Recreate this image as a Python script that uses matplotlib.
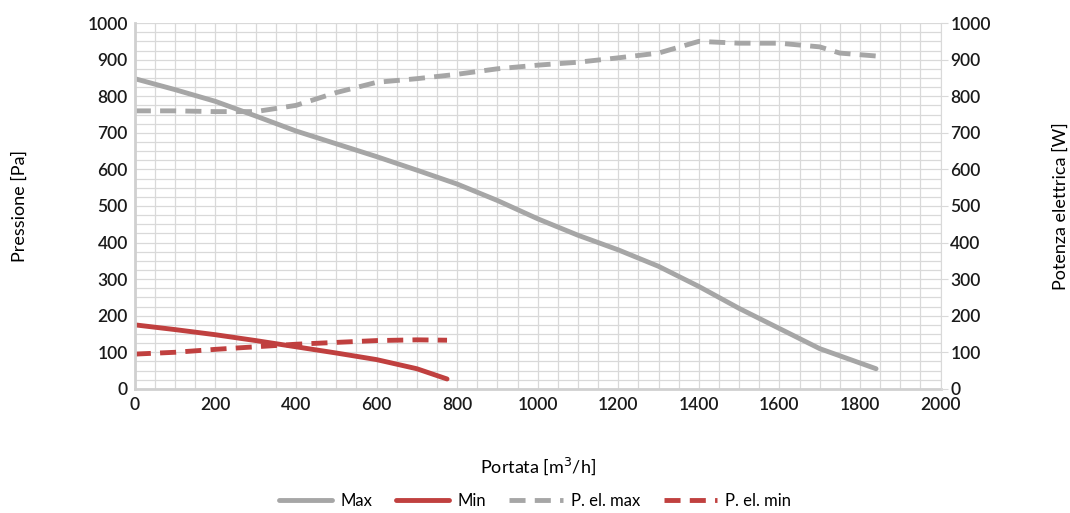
import numpy as np
from matplotlib import pyplot as plt
from matplotlib.ticker import MultipleLocator

plt.rcParams['font.family'] = ['Lato', 'DejaVu Sans']

# curve data
max_x = [0, 100, 200, 300, 400, 500, 600, 700, 800, 900, 1000, 1100, 1200, 1300, 1400, 1500, 1600, 1700, 1840]
max_y = [848, 818, 786, 746, 705, 670, 635, 598, 560, 515, 465, 420, 380, 335, 280, 220, 165, 110, 55]
min_x = [0, 100, 200, 300, 400, 500, 600, 700, 775]
min_y = [175, 162, 148, 132, 115, 98, 80, 55, 27]
pmax_x = [0, 100, 200, 300, 400, 500, 600, 700, 800, 900, 1000, 1100, 1200, 1300, 1400, 1500, 1600, 1700, 1750, 1840]
pmax_y = [760, 760, 758, 758, 775, 810, 838, 848, 860, 875, 885, 893, 905, 918, 950, 945, 945, 935, 918, 910]
pmin_x = [0, 100, 200, 300, 400, 500, 600, 700, 775]
pmin_y = [95, 100, 108, 115, 122, 127, 132, 134, 133]

grey = "#a6a6a6"
red = "#c0403f"

fig = plt.figure(figsize=[10.7, 5.13], dpi=100)
ax = fig.add_axes([0.126, 0.242, 0.753, 0.713])
ax2 = ax.twinx()

ax.plot(max_x, max_y, color=grey, lw=3.5, solid_capstyle="round", label="Max")
ax.plot(min_x, min_y, color=red, lw=3.5, solid_capstyle="round", label="Min")
ax.plot(pmax_x, pmax_y, color=grey, lw=3.5, dashes=(3.3, 1.9), label="P. el. max")
ax.plot(pmin_x, pmin_y, color=red, lw=3.5, dashes=(3.3, 1.9), label="P. el. min")

ax.set_xlim(0, 2000)
ax.set_ylim(0, 1000)
ax2.set_ylim(0, 1000)
ax.xaxis.set_major_locator(MultipleLocator(200))
ax.xaxis.set_minor_locator(MultipleLocator(50))
ax.yaxis.set_major_locator(MultipleLocator(100))
ax.yaxis.set_minor_locator(MultipleLocator(25))
ax2.yaxis.set_major_locator(MultipleLocator(100))
ax.grid(which="both", color="#d9d9d9", lw=0.9)
ax.set_axisbelow(True)

for a in (ax, ax2):
    a.spines["top"].set_visible(False)
    a.tick_params(labelsize=12.5, colors="#1a1a1a")
    for t in a.get_xticklabels() + a.get_yticklabels():
        t.set_fontweight("semibold")
ax.spines["left"].set_color("#d0d0d0")
ax.spines["left"].set_linewidth(2)
ax.spines["bottom"].set_color("#d0d0d0")
ax.spines["bottom"].set_linewidth(2)
ax.spines["right"].set_visible(False)
ax2.spines["left"].set_visible(False)
ax2.spines["bottom"].set_visible(False)
ax2.spines["right"].set_color("#d9d9d9")
ax.tick_params(which="both", length=0, pad=5)
ax.tick_params(axis="x", pad=6)
ax2.tick_params(which="major", length=5, color="#d9d9d9", pad=2)

ax.set_ylabel("Pressione [Pa]", fontsize=13)
ax2.set_ylabel("Potenza elettrica [W]", fontsize=13)
ax.set_xlabel("Portata [m$^3$/h]", fontsize=13)
ax.yaxis.set_label_coords(-0.133, 0.5)
ax2.yaxis.set_label_coords(1.139, 0.5)
ax.xaxis.set_label_coords(0.5, -0.183)

fig.legend(loc="lower center", ncol=4, frameon=False, fontsize=12,
           handlelength=3.2, handletextpad=0.5, columnspacing=1.4,
           bbox_to_anchor=(0.5, -0.022))

plt.savefig("out.png", dpi=100)
